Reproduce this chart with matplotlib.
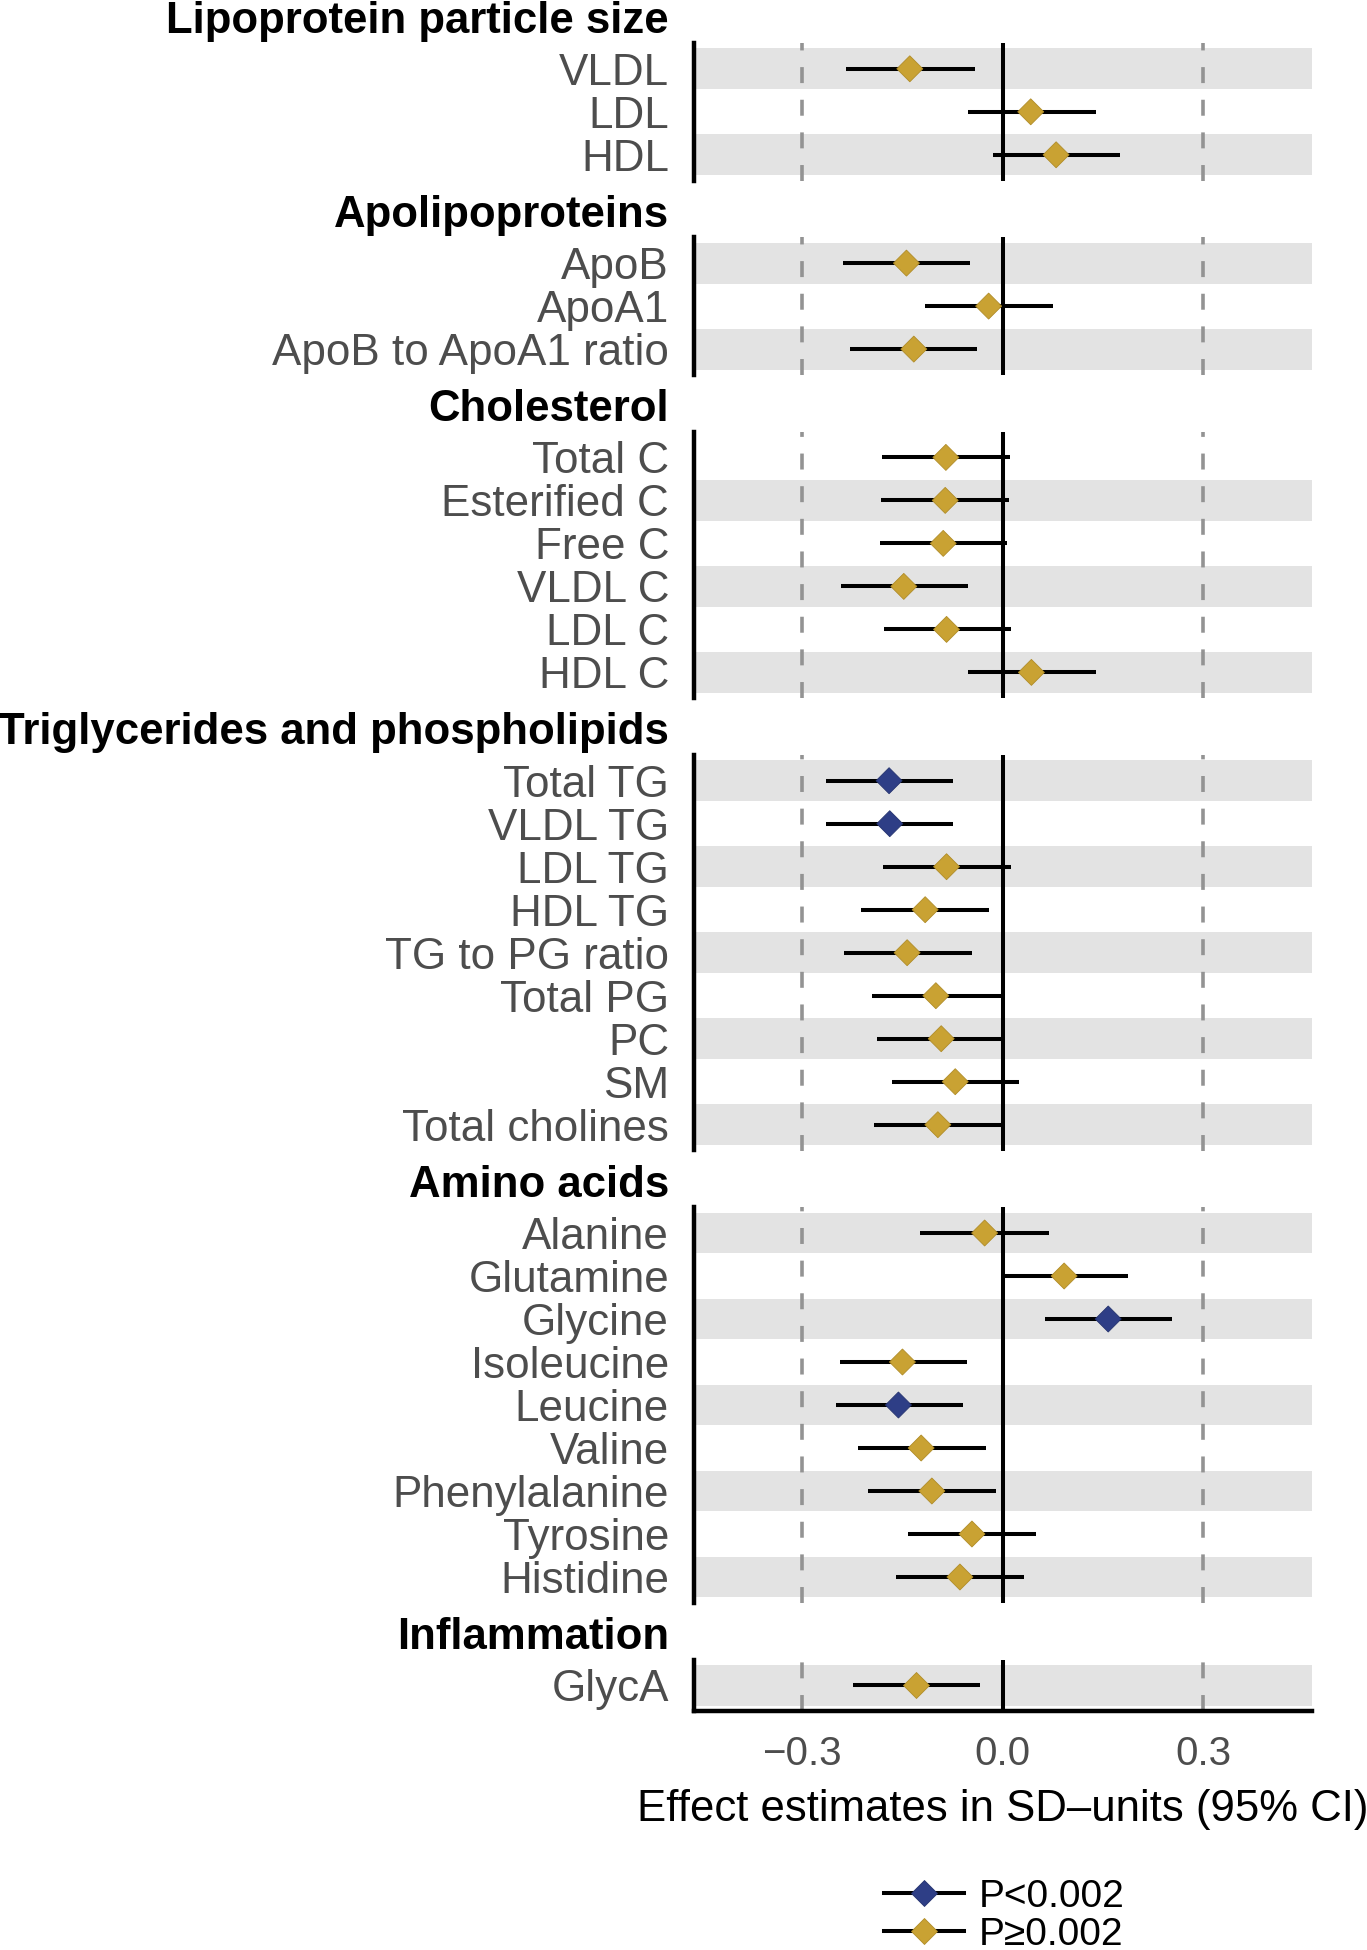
import matplotlib
matplotlib.use("Agg")
import matplotlib.pyplot as plt
from matplotlib.lines import Line2D

plt.rcParams['font.family'] = ['Liberation Sans', 'DejaVu Sans']
plt.rcParams['lines.scale_dashes'] = False

# --- data ---
groups = ["Lipoprotein particle size", "Apolipoproteins", "Cholesterol",
          "Triglycerides and phospholipids", "Amino acids", "Inflammation"]

lipo_size = ["VLDL", "LDL", "HDL"]
apolipo = ["ApoB", "ApoA1", "ApoB to ApoA1 ratio"]
cholesterol = ["Total C", "Esterified C", "Free C", "VLDL C", "LDL C", "HDL C"]
tg_pl = ["Total TG", "VLDL TG", "LDL TG", "HDL TG", "TG to PG ratio",
         "Total PG", "PC", "SM", "Total cholines"]
amino = ["Alanine", "Glutamine", "Glycine", "Isoleucine", "Leucine",
         "Valine", "Phenylalanine", "Tyrosine", "Histidine"]
inflam = ["GlycA"]
group_names = [lipo_size, apolipo, cholesterol, tg_pl, amino, inflam]

# effect estimates and 95% CI, same order as the names above
estimate = [-0.139, 0.042, 0.080,
            -0.144, -0.021, -0.133,
            -0.085, -0.086, -0.089, -0.148, -0.084, 0.043,
            -0.170, -0.169, -0.084, -0.116, -0.143, -0.100, -0.092, -0.071, -0.097,
            -0.027, 0.092, 0.158, -0.150, -0.156, -0.122, -0.106, -0.046, -0.064,
            -0.129]
ci_low = [-0.234, -0.052, -0.015,
          -0.239, -0.116, -0.229,
          -0.180, -0.182, -0.184, -0.242, -0.178, -0.052,
          -0.265, -0.265, -0.179, -0.212, -0.238, -0.195, -0.188, -0.166, -0.192,
          -0.123, -0.002, 0.063, -0.244, -0.250, -0.216, -0.201, -0.141, -0.159,
          -0.224]
ci_high = [-0.042, 0.139, 0.176,
           -0.049, 0.076, -0.038,
           0.011, 0.009, 0.007, -0.052, 0.013, 0.140,
           -0.075, -0.074, 0.012, -0.020, -0.046, -0.003, 0.003, 0.025, -0.001,
           0.069, 0.188, 0.254, -0.054, -0.060, -0.025, -0.010, 0.050, 0.032,
           -0.034]
p_below = [0, 0, 0,
           0, 0, 0,
           0, 0, 0, 0, 0, 0,
           1, 1, 0, 0, 0, 0, 0, 0, 0,
           0, 0, 1, 0, 1, 0, 0, 0, 0,
           0]

xticks = [-0.3, 0.0, 0.3]
xtick_labels = ["\u22120.3", "0.0", "0.3"]
legend_labels = ["P<0.002", "P\u22650.002"]

# --- style ---
GOLD = "#C9A233"
GOLD_EDGE = "#B08C28"
BLUE = "#2E3E86"
BLUE_EDGE = "#25336F"
BAND = "#E3E3E3"
GRID = "#939393"
LABEL_GREY = "#4D4D4D"

W, H = 1367, 1950
AX_LEFT, AX_RIGHT = 694, 1312
ROW_PX, GAP_PX, TOP_PX = 43, 56.7, 43
LAB_RIGHT = 669

fig = plt.figure(figsize=(W / 100, H / 100), dpi=100)

top = TOP_PX
start = 0
last_ax = None
for g, names in enumerate(group_names):
    n = len(names)
    h = (n + 0.2) * ROW_PX
    ax = fig.add_axes([AX_LEFT / W, 1 - (top + h) / H, (AX_RIGHT - AX_LEFT) / W, h / H])
    ax.set_facecolor("none")
    ys = list(range(n, 0, -1))

    # alternating grey bands, counted from the bottom row
    for y in ys:
        if y % 2 == 1:
            ax.axhspan(y - 0.475, y + 0.475, color=BAND, lw=0, zorder=0)
    for xv in (-0.3, 0.3):
        ax.axvline(xv, color=GRID, lw=2.6, ls=(0, (11.5, 12)), zorder=1)
    ax.axvline(0, color="black", lw=2.9, zorder=2)

    est = estimate[start:start + n]
    lo = ci_low[start:start + n]
    hi = ci_high[start:start + n]
    sig = p_below[start:start + n]
    ax.hlines(ys, lo, hi, color="black", lw=2.9, zorder=3)
    ax.scatter(est, ys, marker="D", s=175, zorder=4,
               c=[BLUE if s else GOLD for s in sig],
               edgecolors=[BLUE_EDGE if s else GOLD_EDGE for s in sig], linewidths=0.6)

    ax.set_xlim(-0.462, 0.463)
    ax.set_ylim(0.4, n + 0.6)
    ax.set_yticks(ys)
    ax.set_yticklabels(names, fontsize=31.7, color=LABEL_GREY)
    ax.tick_params(axis="y", length=0, pad=18)
    ax.set_xticks(xticks)
    ax.tick_params(axis="x", length=0, labelbottom=False)
    for side in ["top", "right", "bottom"]:
        ax.spines[side].set_visible(False)
    ax.spines["left"].set_linewidth(3.2)
    ax.spines["left"].set_color("black")

    fig.text(LAB_RIGHT / W, 1 - (top - 10.5) / H, groups[g], ha="right", va="baseline",
             fontsize=31.5, fontweight="bold", color="black")

    start += n
    top = top + h + GAP_PX
    last_ax = ax

# x axis only on the bottom panel
last_ax.spines["bottom"].set_visible(True)
last_ax.spines["bottom"].set_linewidth(3.2)
last_ax.spines["bottom"].set_capstyle("projecting")
last_ax.spines["left"].set_capstyle("projecting")
last_ax.set_xticklabels(xtick_labels)
last_ax.tick_params(axis="x", labelbottom=True, labelsize=29, labelcolor=LABEL_GREY, pad=17.5)
last_ax.set_xlabel("Effect estimates in SD\u2013units (95% CI)", fontsize=31.5, labelpad=11)

handles = [
    Line2D([0], [0], color="black", lw=2.9, marker="D", ms=13.2, mfc=BLUE, mec=BLUE_EDGE, mew=0.6),
    Line2D([0], [0], color="black", lw=2.9, marker="D", ms=13.2, mfc=GOLD, mec=GOLD_EDGE, mew=0.6),
]
fig.legend(handles, legend_labels, loc="upper left", bbox_to_anchor=(884 / W, 1 - 1879 / H),
           frameon=False, fontsize=28, handlelength=2.07, handletextpad=0.36,
           labelspacing=0.05, borderpad=0, borderaxespad=0)

fig.savefig("out.png", dpi=100)
